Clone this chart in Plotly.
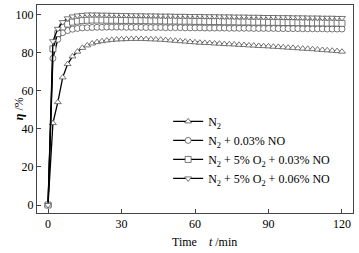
import plotly.graph_objects as go

t = list(range(0, 122, 2))

n2 = [0, 43, 54, 67, 74, 78, 80.5, 82.5, 83.8, 84.8, 85.5, 86.0, 86.4, 86.7, 86.9, 87.0, 87.1, 87.2, 87.2, 87.2,
      87.1, 87.0, 86.9, 86.8, 86.6, 86.4, 86.2, 86.0, 85.8, 85.6, 85.4, 85.2, 85.1, 85.0, 84.8, 84.7,
      84.5, 84.4, 84.3, 84.1, 84.0, 83.8, 83.7, 83.5, 83.4, 83.3, 83.1, 83.0, 82.8, 82.6, 82.5, 82.3,
      82.1, 82.0, 81.8, 81.6, 81.4, 81.2, 81.0, 80.8, 80.5]
n2_no = [0, 77, 87, 90.5, 91.6, 92.3, 92.7, 93.0, 93.1, 93.2, 93.3, 93.3, 93.4, 93.4, 93.4, 93.4, 93.3, 93.3,
         93.3, 93.3, 93.2, 93.2, 93.2, 93.2, 93.1, 93.1, 93.1, 93.1, 93.0, 93.0, 93.0, 93.0, 92.9, 92.9,
         92.9, 92.9, 92.9, 92.8, 92.8, 92.8, 92.8, 92.8, 92.7, 92.7, 92.7, 92.7, 92.7, 92.6, 92.6, 92.6,
         92.6, 92.6, 92.5, 92.5, 92.5, 92.5, 92.5, 92.4, 92.4, 92.4, 92.4]
o2_no3 = [0, 82, 90, 93.5, 95.0, 96.0, 96.5, 96.8, 97.0, 97.1, 97.1, 97.1, 97.0, 97.0, 97.0, 96.9, 96.9, 96.9,
          96.8, 96.8, 96.8, 96.7, 96.7, 96.7, 96.6, 96.6, 96.6, 96.5, 96.5, 96.5, 96.4, 96.4, 96.4, 96.3,
          96.3, 96.3, 96.2, 96.2, 96.2, 96.1, 96.1, 96.1, 96.0, 96.0, 96.0, 95.9, 95.9, 95.9, 95.8, 95.8,
          95.8, 95.7, 95.7, 95.7, 95.6, 95.6, 95.6, 95.5, 95.5, 95.5, 95.4]
o2_no6 = [0, 86, 92.5, 96.0, 98.0, 99.0, 99.5, 99.8, 100.0, 100.0, 100.0, 99.9, 99.9, 99.8, 99.8, 99.7, 99.7,
          99.6, 99.6, 99.6, 99.5, 99.5, 99.5, 99.4, 99.4, 99.4, 99.3, 99.3, 99.3, 99.2, 99.2, 99.2, 99.1,
          99.1, 99.1, 99.0, 99.0, 99.0, 98.9, 98.9, 98.9, 98.8, 98.8, 98.8, 98.7, 98.7, 98.7, 98.6, 98.6,
          98.6, 98.5, 98.5, 98.5, 98.4, 98.4, 98.4, 98.3, 98.3, 98.3, 98.2, 98.2]

names = ["N<sub>2</sub>", "N<sub>2</sub> + 0.03% NO", "N<sub>2</sub> + 5% O<sub>2</sub> + 0.03% NO",
         "N<sub>2</sub> + 5% O<sub>2</sub> + 0.06% NO"]
series = [n2, n2_no, o2_no3, o2_no6]
symbols = ["triangle-up", "circle", "square", "triangle-down"]

FONT = "Liberation Serif, Times New Roman, serif"

fig = go.Figure()
for nm, ys, sym in zip(names, series, symbols):
    fig.add_trace(go.Scatter(
        x=t, y=ys, name=nm, mode="lines+markers",
        line=dict(color="black", width=1.3),
        marker=dict(symbol=sym, size=6, color="white", line=dict(color="#555555", width=0.8)),
    ))

fig.update_layout(
    width=359, height=253,
    margin=dict(l=37, r=6, t=5, b=40),
    paper_bgcolor="white", plot_bgcolor="white",
    font=dict(family=FONT, size=12, color="black"),
    showlegend=True,
    legend=dict(x=0.415, y=0.51, xanchor="left", yanchor="top", bgcolor="rgba(0,0,0,0)",
                font=dict(family=FONT, size=12), itemwidth=30, tracegroupgap=0),
    annotations=[
        dict(text="Time    <i>t</i> /min", x=(205 - 37) / 316, xref="paper", y=-(242 - 213) / 208,
             yref="paper", yanchor="middle", showarrow=False, font=dict(family=FONT, size=12)),
        dict(text="<i><b>η</b></i> /%", x=-0.085, xref="paper", y=0.5, yref="paper",
             textangle=-90, showarrow=False, font=dict(family=FONT, size=12)),
    ],
)

fig.update_xaxes(range=[-4.5, 124.5], tickvals=[0, 30, 60, 90, 120], ticks="inside", ticklen=4,
                 showline=True, mirror=True, linecolor="#444444", linewidth=1, showgrid=False,
                 zeroline=False, automargin=False, tickfont=dict(family=FONT, size=12))
fig.update_yaxes(range=[-4.2, 105], tickvals=[0, 20, 40, 60, 80, 100], ticks="inside", ticklen=4,
                 showline=True, mirror=True, linecolor="#444444", linewidth=1, showgrid=False,
                 zeroline=False, automargin=False, tickfont=dict(family=FONT, size=12))

fig.write_html("out.html", config={"displayModeBar": False},
               post_script="document.body.style.margin='0';")
